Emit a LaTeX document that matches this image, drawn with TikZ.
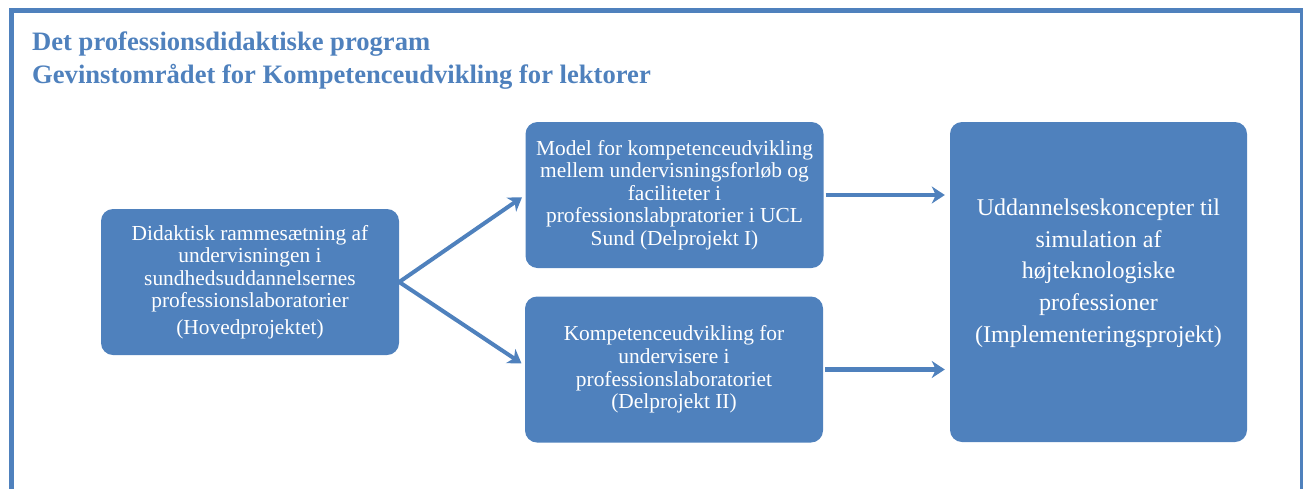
\documentclass[tikz,border=0pt]{standalone}
\usepackage{fontspec}
\setmainfont{Liberation Serif}
\usepackage{tikz}
\usetikzlibrary{arrows.meta, positioning, calc}
\definecolor{cBlue}{RGB}{79,129,189}
\tikzset{
	projbox/.style  ={rectangle, rounded corners=12pt, fill=cBlue, text=white, align=center, minimum width=298pt, minimum height=146pt, inner sep=0pt, font=\fontsize{21.4}{22.6}\selectfont},
	bigtext/.style  ={text=white, align=center, inner sep=0pt, font=\fontsize{24}{31.7}\selectfont},
	headline/.style ={text=cBlue, anchor=base west, inner sep=0pt, font=\bfseries\fontsize{26.6}{33}\selectfont},
	frame/.style    ={draw=cBlue, line width=5pt},
	flowarrow/.style={-{Stealth[length=13pt, width=17pt, inset=4pt]}, line width=4.5pt, draw=cBlue},
	diagarrow/.style={flowarrow, line width=4pt},
}

\begin{document}
\begin{tikzpicture}[x=1pt, y=-1pt]
	\clip (0,0) rectangle (1303,488);
	\draw[frame] (11.5,520) -- (11.5,10.5) -- (1302.5,10.5) -- (1302.5,520);
	\node[headline] (t1) at (32,50) {Det professionsdidaktiske program};
	\node[headline] (t2) at (32,83.3) {Gevinstområdet for Kompetenceudvikling for lektorer};
	\node[projbox] (b1) at (250,282) {Didaktisk rammesætning af\\undervisningen i\\sundhedsuddannelsernes\\professionslaboratorier\\[4pt](Hovedprojektet)};
	\node[projbox] (b2) at (674.5,195) {Model for kompetenceudvikling\\mellem undervisningsforløb og\\faciliteter i\\professionslabpratorier i UCL\\Sund (Delprojekt I)};
	\node[projbox] (b3) at (674,369.5) {Kompetenceudvikling for\\undervisere i\\professionslaboratoriet\\(Delprojekt II)};
	\node[projbox, minimum width=297pt, minimum height=320pt] (b4) at (1098.5,282) {};
	\node[bigtext] (b4t) at ([yshift=9pt]b4.center) {Uddannelseskoncepter til\\simulation af\\højteknologiske\\professioner\\(Implementeringsprojekt)};
	\draw[diagarrow, shorten <=-3pt, shorten >=4pt] (b1.east) -- (b2.west);
	\draw[diagarrow, shorten <=-3pt, shorten >=4pt] (b1.east) -- ([yshift=4pt]b3.west);
	\draw[flowarrow, shorten <=2pt, shorten >=5pt] (b2.east) -- (b2.east -| b4.west);
	\draw[flowarrow, shorten <=2pt, shorten >=5pt] (b3.east) -- (b3.east -| b4.west);
\end{tikzpicture}
\end{document}
